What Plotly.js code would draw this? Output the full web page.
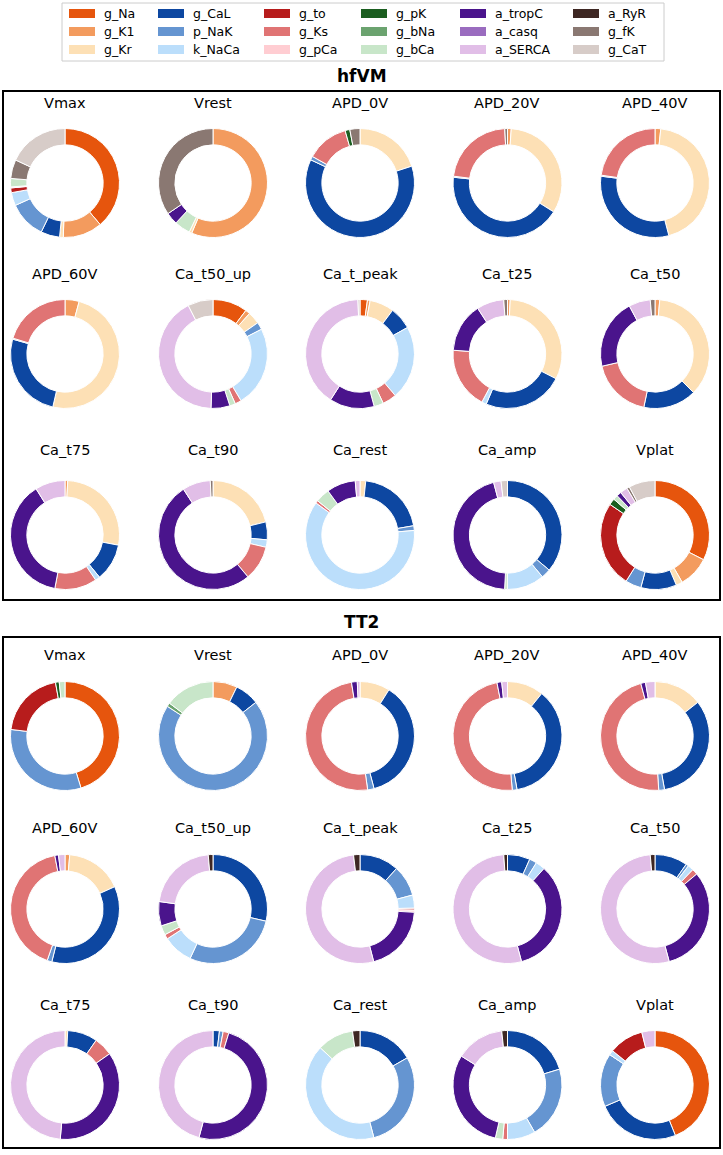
<!DOCTYPE html>
<html>
<head>
<meta charset="utf-8">
<script src="https://cdn.plot.ly/plotly-3.0.1.min.js"></script>
<style>
  html, body { margin: 0; padding: 0; background: #fff; }
  #chart { width: 723px; height: 1155px; }
</style>
</head>
<body>
<div id="chart"></div>
<script>
// Model parameters (slice order, clockwise from 12 o'clock) and their colours
const params = ['g_Na', 'g_K1', 'g_Kr', 'g_CaL', 'p_NaK', 'k_NaCa', 'g_to', 'g_Ks', 'g_pCa',
                'g_pK', 'g_bNa', 'g_bCa', 'a_tropC', 'a_casq', 'a_SERCA', 'a_RyR', 'g_fK', 'g_CaT'];
const paramColors = ['#e6550d', '#f39b5e', '#fde0b5', '#0d47a1', '#6595d1', '#bbdefb', '#b71c1c', '#e07474', '#ffcdd2',
                     '#1b5e20', '#6ba36f', '#c8e6c9', '#4a148c', '#9a6cbf', '#e1bee7', '#3e2723', '#8a7872', '#d7ccc8'];

// Biomarkers, one donut each
const metrics = ['Vmax', 'Vrest', 'APD_0V', 'APD_20V', 'APD_40V',
                 'APD_60V', 'Ca_t50_up', 'Ca_t_peak', 'Ca_t25', 'Ca_t50',
                 'Ca_t75', 'Ca_t90', 'Ca_rest', 'Ca_amp', 'Vplat'];

// Relative sensitivity (%) of each biomarker to each parameter, in the order of `params`
//                  g_Na  g_K1  g_Kr  g_CaL p_NaK kNaCa g_to  g_Ks  g_pCa g_pK  g_bNa g_bCa tropC casq  SERCA RyR   g_fK  g_CaT
const hfVM_Vmax     = [38.9, 11.7, 1.1,  5.6,  11.1, 3.9,  1.4,  0,    0.3,  0,    0,    2.5,  0,    0,    0,    0,    5.6,  18.1];
const hfVM_Vrest    = [0,    56.4, 0.8,  0,    0,    0,    0,    0,    0,    0,    0,    4.7,  3.6,  0,    0,    0,    34.5, 0];
const hfVM_APD_0V   = [0,    0,    20.0, 62.0, 1.1,  0,    0,    12.5, 0,    1.4,  0,    0,    0,    0,    0,    0,    3.0,  0];
const hfVM_APD_20V  = [0,    1.1,  32.8, 42.8, 0.3,  0,    0,    22.2, 0,    0,    0,    0,    0,    0,    0,    0,    0.8,  0];
const hfVM_APD_40V  = [0,    1.7,  44.2, 31.1, 0.3,  0,    0,    22.7, 0,    0,    0,    0,    0,    0,    0,    0,    0,    0];
const hfVM_APD_60V  = [0,    4.2,  49.4, 25.8, 0.3,  0,    0,    20.3, 0,    0,    0,    0,    0,    0,    0,    0,    0,    0];
const hfVM_Ca_t50_up= [10.3, 1.4,  3.6,  0,    2.2,  23.9, 0,    1.9,  0,    0,    0,    1.7,  5.6,  0,    41.9, 0,    0,    7.5];
const hfVM_Ca_t_peak= [2.2,  0.8,  7.2,  6.7,  0,    21.9, 0,    4.2,  0,    0,    0,    2.8,  13.3, 0,    40.3, 0,    0,    0.6];
const hfVM_Ca_t25   = [0,    0.8,  31.7, 23.9, 0,    1.4,  0,    18.3, 0,    0,    0,    0,    14.7, 0,    8.1,  0,    1.1,  0];
const hfVM_Ca_t50   = [0,    1.4,  36.1, 15.8, 0,    0,    0,    18.1, 0,    0,    0,    0,    20.8, 0,    6.4,  0,    1.4,  0];
const hfVM_Ca_t75   = [0,    0.8,  27.2, 11.1, 0,    1.4,  0,    12.5, 0,    0,    0,    0,    38.1, 0,    8.9,  0,    0,    0];
const hfVM_Ca_t90   = [0,    0,    21.1, 5.3,  0,    2.2,  0,    10.3, 0,    0,    0,    0,    51.9, 0,    8.3,  0,    0.8,  0];
const hfVM_Ca_rest  = [0,    0,    1.7,  20.6, 1.4,  61.4, 0,    0.8,  0,    0,    0,    4.2,  8.6,  0,    1.4,  0,    0,    0];
const hfVM_Ca_amp   = [0,    0,    0,    36.1, 2.8,  11.1, 0,    0,    0,    0,    0,    0.8,  45.0, 0,    2.2,  0,    0,    1.9];
const hfVM_Vplat    = [32.5, 9.2,  1.9,  10.6, 4.7,  0,    25.6, 0,    0,    1.9,  0,    1.4,  1.4,  0,    2.2,  0,    0.8,  7.8];

const TT2_Vmax      = [45.3, 0,    0,    0,    31.7, 0,    20.3, 0,    0,    1.1,  0,    1.7,  0,    0,    0,    0,    0,    0];
const TT2_Vrest     = [0,    7.2,  0,    7.2,  69.7, 0,    0,    0,    0,    0,    1.1,  14.7, 0,    0,    0,    0,    0,    0];
const TT2_APD_0V    = [0,    0,    8.9,  36.9, 1.9,  0,    0,    49.7, 0,    0,    0,    0,    1.7,  0,    0.8,  0,    0,    0];
const TT2_APD_20V   = [0,    0,    10.8, 36.4, 1.4,  0,    0,    48.3, 0,    0,    0,    0,    1.4,  0,    1.7,  0,    0,    0];
const TT2_APD_40V   = [0,    0,    14.4, 32.8, 1.7,  0,    0,    46.9, 0,    0,    0,    0,    1.4,  0,    2.8,  0,    0,    0];
const TT2_APD_60V   = [0,    1.4,  16.9, 35.6, 1.4,  0,    0,    41.7, 0,    0,    0,    0,    1.1,  0,    1.9,  0,    0,    0];
const TT2_Ca_t50_up = [0,    0,    0,    28.6, 28.3, 8.9,  0,    1.4,  0,    0,    0,    2.8,  7.2,  0,    21.4, 1.4,  0,    0];
const TT2_Ca_t_peak = [0,    0,    0,    11.7, 9.2,  3.9,  0,    0.6,  0.6,  0,    0,    0,    20.0, 0,    52.2, 1.9,  0,    0];
const TT2_Ca_t25    = [0,    0,    0,    6.7,  2.2,  2.8,  0,    0,    0,    0,    0,    0,    34.2, 0,    53.1, 1.1,  0,    0];
const TT2_Ca_t50    = [0,    0,    0,    9.7,  0.8,  1.7,  0,    1.7,  0,    0,    0,    0,    31.9, 0,    52.8, 1.4,  0,    0];
const TT2_Ca_t75    = [0,    0,    0.8,  8.9,  0,    0,    0,    5.6,  0,    0,    0,    0,    36.1, 0,    48.6, 0,    0,    0];
const TT2_Ca_t90    = [0,    0,    0,    1.9,  1.1,  0,    0,    1.7,  0,    0,    0,    0,    49.4, 0,    45.8, 0,    0,    0];
const TT2_Ca_rest   = [0,    0,    0,    16.7, 29.2, 41.1, 0,    0,    0,    0,    0,    10.8, 0,    0,    0,    2.2,  0,    0];
const TT2_Ca_amp    = [0,    0,    0,    20.3, 21.4, 8.3,  0,    1.4,  0,    0,    0,    2.2,  30.3, 0,    14.4, 1.7,  0,    0];
const TT2_Vplat     = [43.9, 0,    0,    24.7, 15.8, 1.4,  10.3, 0,    0,    0,    0,    0,    0,    0,    3.9,  0,    0,    0];

const models = [
  { name: 'hfVM', rows: [hfVM_Vmax, hfVM_Vrest, hfVM_APD_0V, hfVM_APD_20V, hfVM_APD_40V,
                         hfVM_APD_60V, hfVM_Ca_t50_up, hfVM_Ca_t_peak, hfVM_Ca_t25, hfVM_Ca_t50,
                         hfVM_Ca_t75, hfVM_Ca_t90, hfVM_Ca_rest, hfVM_Ca_amp, hfVM_Vplat] },
  { name: 'TT2',  rows: [TT2_Vmax, TT2_Vrest, TT2_APD_0V, TT2_APD_20V, TT2_APD_40V,
                         TT2_APD_60V, TT2_Ca_t50_up, TT2_Ca_t_peak, TT2_Ca_t25, TT2_Ca_t50,
                         TT2_Ca_t75, TT2_Ca_t90, TT2_Ca_rest, TT2_Ca_amp, TT2_Vplat] }
];

// ---- page geometry (pixels) ----
const W = 723, H = 1155;
const FONT = 'DejaVu Sans, Verdana, sans-serif';
const colX = [65, 213, 360, 507.5, 655];
const panels = [
  { titleY: 76,  box: [3, 91, 720, 600],   rowY: [183, 354, 535],  labelY: [103, 274, 450] },
  { titleY: 622, box: [3, 637, 720, 1148], rowY: [736, 909, 1085], labelY: [655, 828, 1005] }
];
const R = 54.5;

const px = x => x / W;
const py = y => 1 - y / H;

const traces = [];
const annotations = [];
const shapes = [];

models.forEach((model, m) => {
  const panel = panels[m];
  annotations.push({
    text: '<b>' + model.name + '</b>', x: px(W / 2), y: py(panel.titleY),
    xref: 'paper', yref: 'paper', showarrow: false, xanchor: 'center', yanchor: 'middle',
    font: { family: FONT, size: 17, color: '#000' }
  });
  const b = panel.box;
  shapes.push({ type: 'rect', xref: 'paper', yref: 'paper',
    x0: px(b[0]), x1: px(b[2]), y0: py(b[1]), y1: py(b[3]),
    line: { color: '#000', width: 2 }, fillcolor: 'rgba(0,0,0,0)' });

  model.rows.forEach((vals, k) => {
    const r = Math.floor(k / 5), c = k % 5;
    const cx = colX[c], cy = panel.rowY[r];
    const labels = [], values = [], colors = [];
    vals.forEach((v, i) => {
      if (v > 0) { labels.push(params[i]); values.push(v); colors.push(paramColors[i]); }
    });
    traces.push({
      type: 'pie', labels: labels, values: values,
      marker: { colors: colors, line: { color: '#ffffff', width: 1 } },
      hole: 0.7, sort: false, direction: 'clockwise', rotation: 0,
      textinfo: 'none', textposition: 'none', hoverinfo: 'label+percent',
      showlegend: false, name: model.name + ' ' + metrics[k],
      domain: { x: [px(cx - R), px(cx + R)], y: [py(cy + R), py(cy - R)] }
    });
    annotations.push({
      text: metrics[k], x: px(cx), y: py(panel.labelY[r]),
      xref: 'paper', yref: 'paper', showarrow: false, xanchor: 'center', yanchor: 'middle',
      font: { family: FONT, size: 14.5, color: '#000' }
    });
  });
});

// ---- legend: 6 columns x 3 rows, filled column by column ----
const legSwatchX = [69, 158, 264, 361, 460, 573];
const legRowY = [13.5, 31.5, 49.5];
shapes.push({ type: 'rect', xref: 'paper', yref: 'paper',
  x0: px(62), x1: px(664), y0: py(3), y1: py(61),
  line: { color: '#cccccc', width: 1 }, fillcolor: '#ffffff' });
params.forEach((p, i) => {
  const c = Math.floor(i / 3), r = i % 3;
  const x0 = legSwatchX[c], yc = legRowY[r];
  shapes.push({ type: 'rect', xref: 'paper', yref: 'paper',
    x0: px(x0), x1: px(x0 + 26), y0: py(yc + 4.5), y1: py(yc - 4.5),
    line: { width: 0 }, fillcolor: paramColors[i] });
  annotations.push({
    text: p, x: px(x0 + 33), y: py(yc), xref: 'paper', yref: 'paper', showarrow: false,
    xanchor: 'left', yanchor: 'middle', font: { family: FONT, size: 12.5, color: '#000' }
  });
});

const layout = {
  width: W, height: H,
  margin: { l: 0, r: 0, t: 0, b: 0 },
  paper_bgcolor: '#ffffff',
  showlegend: false,
  annotations: annotations,
  shapes: shapes
};

Plotly.newPlot('chart', traces, layout, { displayModeBar: false, staticPlot: true });
</script>
</body>
</html>
